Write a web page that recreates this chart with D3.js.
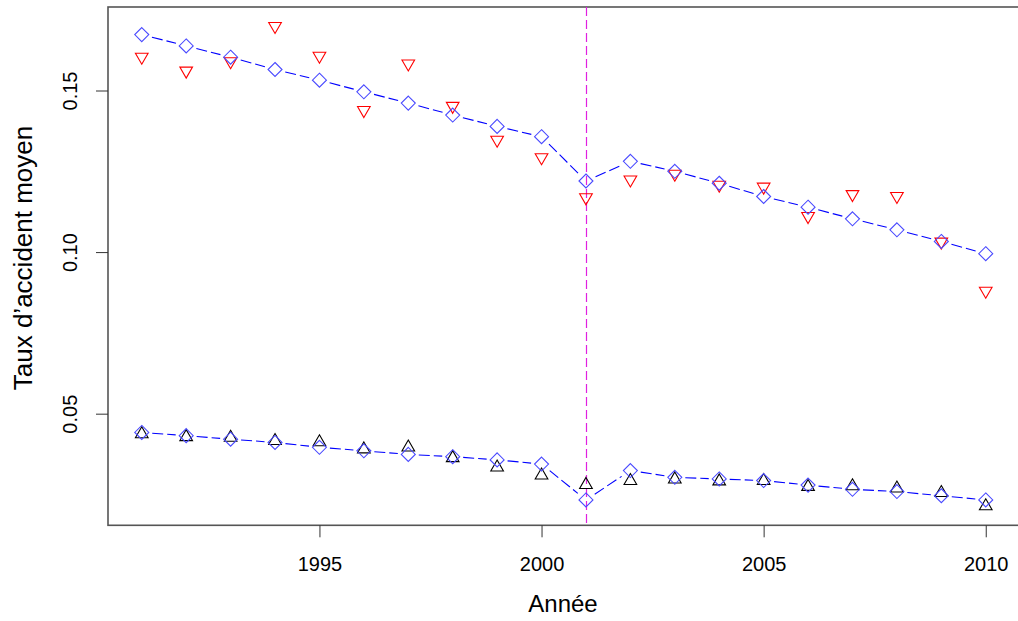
<!DOCTYPE html>
<html>
<head>
<meta charset="utf-8">
<script src="https://cdn.jsdelivr.net/npm/d3@7"></script>
<style>
  body { margin: 0; background: #fff; }
  text { font-family: "Liberation Sans", Arial, sans-serif; fill: #000; }
</style>
</head>
<body>
<div id="canvas"></div>
<script>
const years = [1991, 1992, 1993, 1994, 1995, 1996, 1997, 1998, 1999, 2000,
               2001, 2002, 2003, 2004, 2005, 2006, 2007, 2008, 2009, 2010];
const fitHigh = [0.1673, 0.1638, 0.1603, 0.1565, 0.1532, 0.1496, 0.1461, 0.1424, 0.1389, 0.1357,
                 0.1220, 0.1281, 0.1250, 0.1213, 0.1172, 0.1139, 0.1103, 0.1069, 0.1033, 0.0995];
const obsHigh = [0.1604, 0.1561, 0.1590, 0.1699, 0.1607, 0.1439, 0.1583, 0.1452, 0.1347, 0.1293,
                 0.1169, 0.1224, 0.1242, 0.1208, 0.1202, 0.1111, 0.1179, 0.1173, 0.1032, 0.0880];
const fitLow = [0.0442, 0.0432, 0.0421, 0.0411, 0.0396, 0.0385, 0.0374, 0.0367, 0.0357, 0.0344,
                0.0233, 0.0324, 0.0303, 0.0298, 0.0293, 0.0279, 0.0266, 0.0259, 0.0246, 0.0233];
const obsLow = [0.0437, 0.0428, 0.0426, 0.0416, 0.0412, 0.0390, 0.0396, 0.0363, 0.0334, 0.0309,
                0.0280, 0.0292, 0.0297, 0.0291, 0.0292, 0.0274, 0.0276, 0.0269, 0.0255, 0.0214];
const breakYear = 2001;
const xTicks = [1995, 2000, 2005, 2010];
const yTicks = [0.05, 0.10, 0.15];

const width = 1018;
const height = 621;

const svg = d3.select("#canvas").append("svg")
  .attr("width", width)
  .attr("height", height);

// R style 4% padding around the data range
const pad = (lo, hi) => [lo - 0.04 * (hi - lo), hi + 0.04 * (hi - lo)];
const allY = fitHigh.concat(obsHigh, fitLow, obsLow);

const x = d3.scaleLinear()
  .domain(pad(d3.min(years), d3.max(years)))
  .range([108, 1019.5]);

const y = d3.scaleLinear()
  .domain(pad(d3.min(allY), d3.max(allY)))
  .range([525.3, 7]);

// box
svg.append("rect")
  .attr("x", x.range()[0]).attr("y", y.range()[1])
  .attr("width", x.range()[1] - x.range()[0])
  .attr("height", y.range()[0] - y.range()[1])
  .attr("fill", "none")
  .attr("stroke", "#555")
  .attr("stroke-width", 1.6);

// x axis
const xa = svg.append("g")
  .attr("transform", `translate(0,${y.range()[0]})`)
  .call(d3.axisBottom(x).tickValues(xTicks).tickFormat(d3.format("d")).tickSize(12).tickPadding(20));
xa.select(".domain").remove();
xa.selectAll("line").attr("stroke", "#333");
xa.selectAll("text").attr("font-size", 20).attr("fill", "#000")
  .attr("font-family", "Liberation Sans, Arial, sans-serif");

// y axis, labels turned like R's las=0
const ya = svg.append("g")
  .attr("transform", `translate(${x.range()[0]},0)`)
  .call(d3.axisLeft(y).tickValues(yTicks).tickFormat(d3.format(".2f")).tickSize(12));
ya.select(".domain").remove();
ya.selectAll("line").attr("stroke", "#333");
ya.selectAll("text")
  .attr("font-size", 20).attr("fill", "#000")
  .attr("font-family", "Liberation Sans, Arial, sans-serif")
  .attr("x", null).attr("dy", null)
  .attr("text-anchor", "middle")
  .attr("transform", "translate(-31,0) rotate(-90)");

svg.append("text")
  .attr("x", 563).attr("y", 611.5)
  .attr("text-anchor", "middle")
  .attr("font-size", 24)
  .text("Année");

svg.append("text")
  .attr("transform", "translate(32,258) rotate(-90)")
  .attr("text-anchor", "middle")
  .attr("font-size", 26)
  .text("Taux d\u2019accident moyen");

// vertical break line
const bx = Math.round(x(breakYear)) + 0.5;
svg.append("line")
  .attr("x1", bx).attr("x2", bx)
  .attr("y1", y.range()[1]).attr("y2", y.range()[0])
  .attr("stroke", "#e020e0")
  .attr("stroke-width", 1.2)
  .attr("stroke-dasharray", "9,4");

// type="b" lines: segments with gaps around the points
function gapLines(vals, color) {
  const gap = 10.5;
  const segs = [];
  for (let i = 0; i < vals.length - 1; i++) {
    const x1 = x(years[i]), y1 = y(vals[i]);
    const x2 = x(years[i + 1]), y2 = y(vals[i + 1]);
    const len = Math.hypot(x2 - x1, y2 - y1);
    if (len <= 2 * gap) continue;
    const ux = (x2 - x1) / len, uy = (y2 - y1) / len;
    segs.push([x1 + ux * gap, y1 + uy * gap, x2 - ux * gap, y2 - uy * gap]);
  }
  svg.append("g").selectAll("line").data(segs).enter().append("line")
    .attr("x1", d => d[0]).attr("y1", d => d[1])
    .attr("x2", d => d[2]).attr("y2", d => d[3])
    .attr("stroke", color)
    .attr("stroke-width", 1.1)
    .attr("stroke-dasharray", "11,4");
}

function diamonds(vals, color) {
  const r = 7;
  svg.append("g").selectAll("path").data(vals).enter().append("path")
    .attr("d", (d, i) => {
      const cx = x(years[i]), cy = y(d);
      return `M${cx},${cy - r}L${cx + r},${cy}L${cx},${cy + r}L${cx - r},${cy}Z`;
    })
    .attr("fill", "none")
    .attr("stroke", color)
    .attr("stroke-width", 1.1);
}

// R pch 2 / 6 triangles
function triangles(vals, color, down) {
  const r = 4.7;
  const t0 = Math.sqrt(4 * Math.PI / (3 * Math.sqrt(3)));
  const t1 = t0 * Math.sqrt(3) / 2, t2 = t0 / 2;
  const s = down ? -1 : 1;
  svg.append("g").selectAll("path").data(vals).enter().append("path")
    .attr("d", (d, i) => {
      const cx = x(years[i]), cy = y(d);
      return `M${cx},${cy - s * t0 * r}L${cx + t1 * r},${cy + s * t2 * r}L${cx - t1 * r},${cy + s * t2 * r}Z`;
    })
    .attr("fill", "none")
    .attr("stroke", color)
    .attr("stroke-width", 1.1);
}

gapLines(fitHigh, "blue");
gapLines(fitLow, "blue");
triangles(obsHigh, "#ff0000", true);
triangles(obsLow, "#000000", false);
diamonds(fitHigh, "#4a4aff");
diamonds(fitLow, "#4a4aff");
</script>
</body>
</html>
